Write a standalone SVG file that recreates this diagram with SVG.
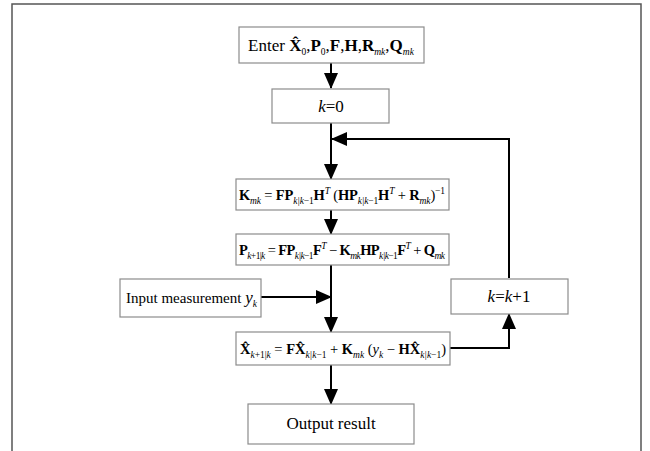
<svg xmlns="http://www.w3.org/2000/svg" width="650" height="451" viewBox="0 0 650 451">
<style>
.box{fill:#fff;stroke:#8c8c8c;stroke-width:1.2}
.t{font-family:"Liberation Serif","Times New Roman",serif;font-size:17px;fill:#000}
.f{font-size:14.5px}
.b{font-weight:bold}
.i{font-style:italic}
.s{font-size:9.5px}
.ln{fill:none;stroke:#000;stroke-width:2}
.frame{fill:none;stroke:#555;stroke-width:1.5}
</style>
<defs>
<marker id="ah" markerUnits="userSpaceOnUse" markerWidth="16" markerHeight="14" refX="15" refY="7" orient="auto">
<path d="M0,0 L16,7 L0,14 Z" fill="#000"/>
</marker>
</defs>
<rect width="650" height="451" fill="#fff"/>
<path class="frame" d="M12,451 V4 H641 V451"/>
<g id="connectors">
<line class="ln" x1="331" y1="63" x2="331" y2="88" marker-end="url(#ah)"/>
<line class="ln" x1="331" y1="123" x2="331" y2="179" marker-end="url(#ah)"/>
<line class="ln" x1="331" y1="210" x2="331" y2="234" marker-end="url(#ah)"/>
<line class="ln" x1="331" y1="265" x2="331" y2="332" marker-end="url(#ah)"/>
<line class="ln" x1="261" y1="297" x2="331" y2="297" marker-end="url(#ah)"/>
<line class="ln" x1="331" y1="365" x2="331" y2="404" marker-end="url(#ah)"/>
<polyline class="ln" points="450,348 509,348 509,314" marker-end="url(#ah)"/>
<polyline class="ln" points="509,278 509,139 332,139" marker-end="url(#ah)"/>
</g>
<g id="enter">
<rect class="box" x="239" y="27" width="185" height="36"/>
<text class="t" x="331" y="51" text-anchor="middle">Enter <tspan class="b">X̂</tspan><tspan class="s" dy="4">0</tspan><tspan dy="-4">,</tspan><tspan class="b">P</tspan><tspan class="s" dy="4">0</tspan><tspan dy="-4">,</tspan><tspan class="b">F</tspan>,<tspan class="b">H</tspan>,<tspan class="b">R</tspan><tspan class="s i" dy="4">mk</tspan><tspan dy="-4">,</tspan><tspan class="b">Q</tspan><tspan class="s i" dy="4">mk</tspan></text>
</g>
<g id="k0">
<rect class="box" x="272" y="89" width="117" height="34"/>
<text class="t" x="331" y="112" text-anchor="middle"><tspan class="i">k</tspan>=0</text>
</g>
<g id="gain">
<rect class="box" x="236" y="179" width="213" height="31"/>
<text class="t f" x="342" y="200" text-anchor="middle" textLength="206" lengthAdjust="spacing"><tspan class="b">K</tspan><tspan class="s i" dy="4">mk</tspan><tspan dy="-4"> = </tspan><tspan class="b">FP</tspan><tspan class="s i" dy="4">k|k</tspan><tspan class="s">−1</tspan><tspan class="b" dy="-4">H</tspan><tspan class="s i" dy="-6">T</tspan><tspan dy="6"> (</tspan><tspan class="b">HP</tspan><tspan class="s i" dy="4">k|k</tspan><tspan class="s">−1</tspan><tspan class="b" dy="-4">H</tspan><tspan class="s i" dy="-6">T</tspan><tspan dy="6"> + </tspan><tspan class="b">R</tspan><tspan class="s i" dy="4">mk</tspan><tspan dy="-4">)</tspan><tspan class="s" dy="-6">−1</tspan></text>
</g>
<g id="cov">
<rect class="box" x="236" y="234" width="213" height="31"/>
<text class="t f" x="342" y="255" text-anchor="middle" textLength="206" lengthAdjust="spacing"><tspan class="b">P</tspan><tspan class="s i" dy="4">k</tspan><tspan class="s">+1|</tspan><tspan class="s i">k</tspan><tspan dy="-4"> = </tspan><tspan class="b">FP</tspan><tspan class="s i" dy="4">k|k</tspan><tspan class="s">−1</tspan><tspan class="b" dy="-4">F</tspan><tspan class="s i" dy="-6">T</tspan><tspan dy="6"> − </tspan><tspan class="b">K</tspan><tspan class="s i" dy="4">mk</tspan><tspan class="b" dy="-4">HP</tspan><tspan class="s i" dy="4">k|k</tspan><tspan class="s">−1</tspan><tspan class="b" dy="-4">F</tspan><tspan class="s i" dy="-6">T</tspan><tspan dy="6"> + </tspan><tspan class="b">Q</tspan><tspan class="s i" dy="4">mk</tspan></text>
</g>
<g id="input">
<rect class="box" x="120" y="279" width="141" height="38"/>
<text class="t" x="126" y="303" style="font-size:15px">Input measurement <tspan class="i" style="font-size:17px">y</tspan><tspan class="s i" dy="4">k</tspan></text>
</g>
<g id="state">
<rect class="box" x="236" y="332" width="214" height="33"/>
<text class="t f" x="343" y="354" text-anchor="middle" textLength="206" lengthAdjust="spacing"><tspan class="b">X̂</tspan><tspan class="s i" dy="4">k</tspan><tspan class="s">+1|</tspan><tspan class="s i">k</tspan><tspan dy="-4"> = </tspan><tspan class="b">FX̂</tspan><tspan class="s i" dy="4">k|k</tspan><tspan class="s">−1</tspan><tspan dy="-4"> + </tspan><tspan class="b">K</tspan><tspan class="s i" dy="4">mk</tspan><tspan dy="-4"> (</tspan><tspan class="i">y</tspan><tspan class="s i" dy="4">k</tspan><tspan dy="-4"> − </tspan><tspan class="b">HX̂</tspan><tspan class="s i" dy="4">k|k</tspan><tspan class="s">−1</tspan><tspan dy="-4">)</tspan></text>
</g>
<g id="inc">
<rect class="box" x="451" y="279" width="117" height="35"/>
<text class="t" x="509" y="302" text-anchor="middle"><tspan class="i">k</tspan>=<tspan class="i">k</tspan>+1</text>
</g>
<g id="output">
<rect class="box" x="248" y="404" width="166" height="40"/>
<text class="t" x="331" y="429" text-anchor="middle">Output result</text>
</g>
</svg>
